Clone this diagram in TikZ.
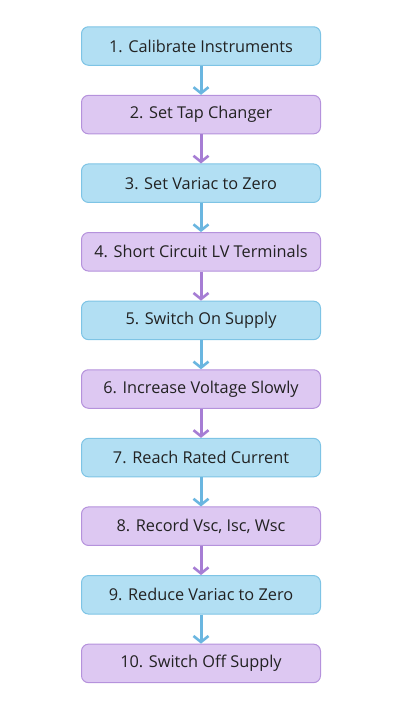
\documentclass[tikz,border=0pt]{standalone}
\usepackage{fontspec}
\setmainfont{Open Sans}
\usetikzlibrary{arrows.meta,positioning}
\definecolor{bfill}{HTML}{B2DFF3}
\definecolor{bdraw}{HTML}{7EC4E5}
\definecolor{barrow}{HTML}{6AB6E0}
\definecolor{pfill}{HTML}{DDC8F2}
\definecolor{pdraw}{HTML}{B592DC}
\definecolor{parrow}{HTML}{A67DD4}
\definecolor{txt}{HTML}{222222}
\begin{document}
\begin{tikzpicture}[x=1pt,y=-1pt,
  stepbox/.style={rounded corners=7pt, minimum width=239pt, minimum height=38.5pt, line width=1pt, font=\fontsize{16.3}{19}\selectfont, text=txt, inner sep=0pt},
  bluebox/.style={stepbox, fill=bfill, draw=bdraw},
  purplebox/.style={stepbox, fill=pfill, draw=pdraw},
  conn/.style={line width=3pt, -{Straight Barb[length=6pt,width=15pt,line width=2.6pt]}},
  bconn/.style={conn, draw=barrow},
  pconn/.style={conn, draw=parrow}]
\useasboundingbox (0,0) rectangle (402,720);
\node[bluebox]   (s1)  at (201,46)   {1. Calibrate Instruments};
\node[purplebox] (s2)  at (201,114.6) {2. Set Tap Changer};
\node[bluebox]   (s3)  at (201,183.2) {3. Set Variac to Zero};
\node[purplebox] (s4)  at (201,251.8) {4. Short Circuit LV Terminals};
\node[bluebox]   (s5)  at (201,320.4) {5. Switch On Supply};
\node[purplebox] (s6)  at (201,389)   {6. Increase Voltage Slowly};
\node[bluebox]   (s7)  at (201,457.6) {7. Reach Rated Current};
\node[purplebox] (s8)  at (201,526.2) {8. Record Vsc, Isc, Wsc};
\node[bluebox]   (s9)  at (201,594.8) {9. Reduce Variac to Zero};
\node[purplebox] (s10) at (201,663.4) {10. Switch Off Supply};
\draw[bconn] (s1) -- (s2);
\draw[pconn] (s2) -- (s3);
\draw[bconn] (s3) -- (s4);
\draw[pconn] (s4) -- (s5);
\draw[bconn] (s5) -- (s6);
\draw[pconn] (s6) -- (s7);
\draw[bconn] (s7) -- (s8);
\draw[pconn] (s8) -- (s9);
\draw[bconn] (s9) -- (s10);
\end{tikzpicture}
\end{document}
